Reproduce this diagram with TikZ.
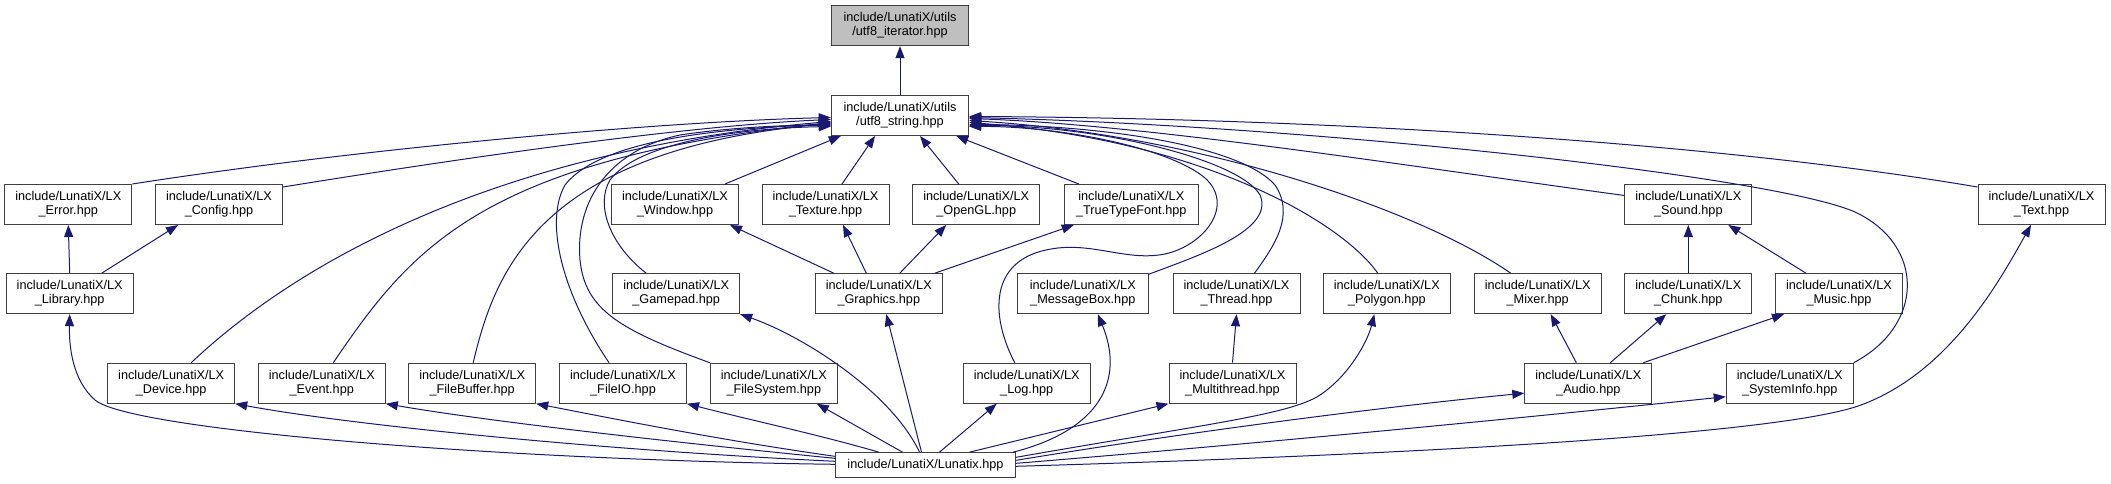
\documentclass[tikz,border=0pt]{standalone}
\usepackage{fontspec}
\setmainfont{Liberation Sans}
\usetikzlibrary{arrows.meta,calc}
\definecolor{edgecol}{RGB}{25,25,112}
\definecolor{boxline}{RGB}{64,64,64}
\definecolor{boxgrey}{RGB}{191,191,191}
\tikzset{
 box/.style={draw=boxline, line width=1pt, fill=white, inner sep=0pt, align=center,
   minimum width=127pt, minimum height=40pt, font=\fontsize{12.7}{14}\selectfont},
 edge/.style={draw=edgecol, line width=1pt, -{Triangle[length=12pt,width=9pt]}},
}
\begin{document}
\begin{tikzpicture}[x=1pt,y=-1pt]
\useasboundingbox (0,0) rectangle (2111,484);
\fill[white] (0,0) rectangle (2111,484);
% rows
\node[box, fill=boxgrey, minimum width=137.4pt] (iter) at (900,25.7) {include/LunatiX/utils\\/utf8\_iterator.hpp};
\node[box, minimum width=137.4pt] (str) at (900,115.5) {include/LunatiX/utils\\/utf8\_string.hpp};
\node[box] (error) at (68.3,204.5) {include/LunatiX/LX\\\_Error.hpp};
\node[box] (config) at (219,204.5) {include/LunatiX/LX\\\_Config.hpp};
\node[box] (window) at (675,204.5) {include/LunatiX/LX\\\_Window.hpp};
\node[box] (texture) at (825.5,204.5) {include/LunatiX/LX\\\_Texture.hpp};
\node[box] (opengl) at (976.2,204.5) {include/LunatiX/LX\\\_OpenGL.hpp};
\node[box, minimum width=134pt] (ttf) at (1131.3,204.5) {include/LunatiX/LX\\\_TrueTypeFont.hpp};
\node[box] (sound) at (1688.3,204.5) {include/LunatiX/LX\\\_Sound.hpp};
\node[box] (text) at (2041.5,204.5) {include/LunatiX/LX\\\_Text.hpp};
\node[box] (library) at (69.7,293.7) {include/LunatiX/LX\\\_Library.hpp};
\node[box] (gamepad) at (676.2,293.7) {include/LunatiX/LX\\\_Gamepad.hpp};
\node[box] (graphics) at (878.8,293.7) {include/LunatiX/LX\\\_Graphics.hpp};
\node[box, minimum width=131pt] (msgbox) at (1082.8,293.7) {include/LunatiX/LX\\\_MessageBox.hpp};
\node[box] (thread) at (1236.5,293.7) {include/LunatiX/LX\\\_Thread.hpp};
\node[box] (polygon) at (1386.8,293.7) {include/LunatiX/LX\\\_Polygon.hpp};
\node[box] (mixer) at (1537.7,293.7) {include/LunatiX/LX\\\_Mixer.hpp};
\node[box] (chunk) at (1688.3,293.7) {include/LunatiX/LX\\\_Chunk.hpp};
\node[box] (music) at (1839,293.7) {include/LunatiX/LX\\\_Music.hpp};
\node[box] (device) at (171.2,383.2) {include/LunatiX/LX\\\_Device.hpp};
\node[box] (event) at (321.8,383.2) {include/LunatiX/LX\\\_Event.hpp};
\node[box] (filebuffer) at (472.2,383.2) {include/LunatiX/LX\\\_FileBuffer.hpp};
\node[box] (fileio) at (623,383.2) {include/LunatiX/LX\\\_FileIO.hpp};
\node[box] (filesystem) at (773.8,383.2) {include/LunatiX/LX\\\_FileSystem.hpp};
\node[box] (log) at (1026.7,383.2) {include/LunatiX/LX\\\_Log.hpp};
\node[box] (multithread) at (1232.5,383.2) {include/LunatiX/LX\\\_Multithread.hpp};
\node[box] (audio) at (1588.3,383.2) {include/LunatiX/LX\\\_Audio.hpp};
\node[box] (sysinfo) at (1789.7,383.2) {include/LunatiX/LX\\\_SystemInfo.hpp};
\node[box, minimum width=180.4pt, minimum height=25.3pt] (lunatix) at (925.5,465.3) {include/LunatiX/Lunatix.hpp};
% string -> iterator
\draw[edge] (str.north) -- (iter.south);
% left bundle into string
\draw[edge] (error.north east) .. controls (350,150) and (650,122) .. ($(str.west)+(0,2)$);
\draw[edge] ($(config.north east)+(0,3)$) .. controls (450,160) and (680,126) .. ($(str.west)+(0,4)$);
\draw[edge] ($(device.north)+(20,0)$) .. controls (300,260) and (500,150) .. ($(str.west)+(0,6)$);
\draw[edge] ($(event.north)+(11.5,0)$) .. controls (410,250) and (480,160) .. ($(str.west)+(0,7)$);
\draw[edge] ($(filebuffer.north)+(1,0)$) .. controls (495,270) and (540,150) .. ($(str.west)+(0,8)$);
\draw[edge] ($(fileio.north)+(-14,0)$) .. controls (560,290) and (545,220) .. (565,185) .. controls (600,140) and (720,128) .. ($(str.west)+(0,9)$);
\draw[edge] (filesystem.north west) .. controls (620,330) and (585,310) .. (580,260) .. controls (575,200) and (610,150) .. (680,135) .. controls (740,126) and (800,125) .. ($(str.west)+(0,10)$);
\draw[edge] ($(gamepad.north)+(-30,0)$) .. controls (610,245) and (595,205) .. (610,180) .. controls (640,140) and (750,128) .. ($(str.west)+(0,11)$);
% bottom into string
\draw[edge] ($(window.north)+(50,0)$) -- ($(str.south west)+(10,0)$);
\draw[edge] ($(texture.north)+(16.5,0)$) -- ($(str.south)+(-25,0)$);
\draw[edge] ($(opengl.north)+(-17.5,0)$) -- ($(str.south)+(20,0)$);
\draw[edge] ($(ttf.north west)+(15,0)$) -- ($(str.south east)+(-13,0)$);
% right bundle into string
\draw[edge] ($(sound.west)+(0,-9)$) .. controls (1400,165) and (1150,125) .. ($(str.east)+(0,3)$);
\draw[edge] ($(text.north west)+(0,3)$) .. controls (1700,140) and (1300,118) .. ($(str.east)+(0,1)$);
\draw[edge] (sysinfo.north east) .. controls (1925,325) and (1925,245) .. (1855,212) .. controls (1770,175) and (1300,125) .. ($(str.east)+(0,2)$);
\draw[edge] ($(mixer.north)+(-27,0)$) .. controls (1420,210) and (1200,135) .. ($(str.east)+(0,5)$);
\draw[edge] ($(polygon.north)+(-9,0)$) .. controls (1340,220) and (1200,140) .. ($(str.east)+(0,7)$);
\draw[edge] ($(thread.north)+(18,0)$) .. controls (1275,245) and (1295,215) .. (1275,185) .. controls (1240,145) and (1100,125) .. ($(str.east)+(0,9)$);
\draw[edge] ($(msgbox.north east)+(0,1)$) .. controls (1200,255) and (1275,230) .. (1260,195) .. controls (1240,160) and (1100,125) .. ($(str.east)+(0,10)$);
\draw[edge] ($(log.north)+(-12,0)$) .. controls (990,315) and (990,262) .. (1046,250) .. controls (1090,240) and (1125,262) .. (1165,254) .. controls (1205,245) and (1235,205) .. (1205,178) .. controls (1170,148) and (1060,126) .. ($(str.east)+(0,11)$);
% middle levels
\draw[edge] (library.north) -- (error.south);
\draw[edge] ($(library.north)+(32,0)$) -- ($(config.south)+(-41,0)$);
\draw[edge] ($(graphics.north west)+(19,0)$) -- ($(window.south east)+(-9,0)$);
\draw[edge] ($(graphics.north)+(-12.5,0)$) -- ($(texture.south)+(17.5,0)$);
\draw[edge] ($(graphics.north)+(21,0)$) -- ($(opengl.south)+(-30,0)$);
\draw[edge] ($(graphics.north east)+(-8,0)$) -- ($(ttf.south west)+(10,0)$);
\draw[edge] (chunk.north) -- (sound.south);
\draw[edge] ($(music.north)+(-33,0)$) -- ($(sound.south east)+(-24,0)$);
\draw[edge] (multithread.north) -- (thread.south);
\draw[edge] ($(audio.north)+(-12,0)$) -- ($(mixer.south)+(13,0)$);
\draw[edge] ($(audio.north)+(22,0)$) -- ($(chunk.south)+(-22,0)$);
\draw[edge] ($(audio.north east)+(-9,0)$) -- ($(music.south west)+(9,0)$);
% Lunatix
\draw[edge] ($(lunatix.west)+(0,-1)$) .. controls (500,460) and (130,430) .. (95,400) .. controls (72,380) and (69,345) .. (library.south);
\draw[edge] ($(lunatix.west)+(0,-4)$) .. controls (600,450) and (350,425) .. (device.south east);
\draw[edge] ($(lunatix.west)+(0,-7)$) .. controls (650,440) and (480,420) .. (event.south east);
\draw[edge] ($(lunatix.west)+(0,-9)$) .. controls (720,440) and (620,420) .. (filebuffer.south east);
\draw[edge] ($(lunatix.north west)+(44,0)$) .. controls (820,435) and (750,420) .. (fileio.south east);
\draw[edge] ($(lunatix.north)+(-23,0)$) -- ($(filesystem.south east)+(-21,0)$);
\draw[edge] ($(lunatix.north)+(-6,0)$) .. controls (890,390) and (800,335) .. (gamepad.south east);
\draw[edge] ($(lunatix.north)+(-4,0)$) -- ($(graphics.south)+(7.5,0)$);
\draw[edge] ($(lunatix.north)+(14,0)$) -- ($(log.south)+(-30,0)$);
\draw[edge] ($(lunatix.north)+(44,0)$) -- (multithread.south west);
\draw[edge] ($(lunatix.north east)+(-3,0)$) .. controls (1100,430) and (1125,380) .. ($(msgbox.south)+(15,0)$);
\draw[edge] ($(lunatix.east)+(0,-8)$) .. controls (1200,425) and (1290,415) .. (1320,395) .. controls (1350,375) and (1368,340) .. ($(polygon.south)+(-12.5,0)$);
\draw[edge] ($(lunatix.east)+(0,-5)$) .. controls (1200,430) and (1400,405) .. ($(audio.west)+(0,10)$);
\draw[edge] ($(lunatix.east)+(0,-2)$) .. controls (1300,440) and (1550,415) .. ($(sysinfo.west)+(0,13.5)$);
\draw[edge] ($(lunatix.east)+(0,1)$) .. controls (1400,455) and (1780,435) .. (1861,405) .. controls (1950,372) and (2000,280) .. ($(text.south)+(-10.5,0)$);
\end{tikzpicture}
\end{document}
